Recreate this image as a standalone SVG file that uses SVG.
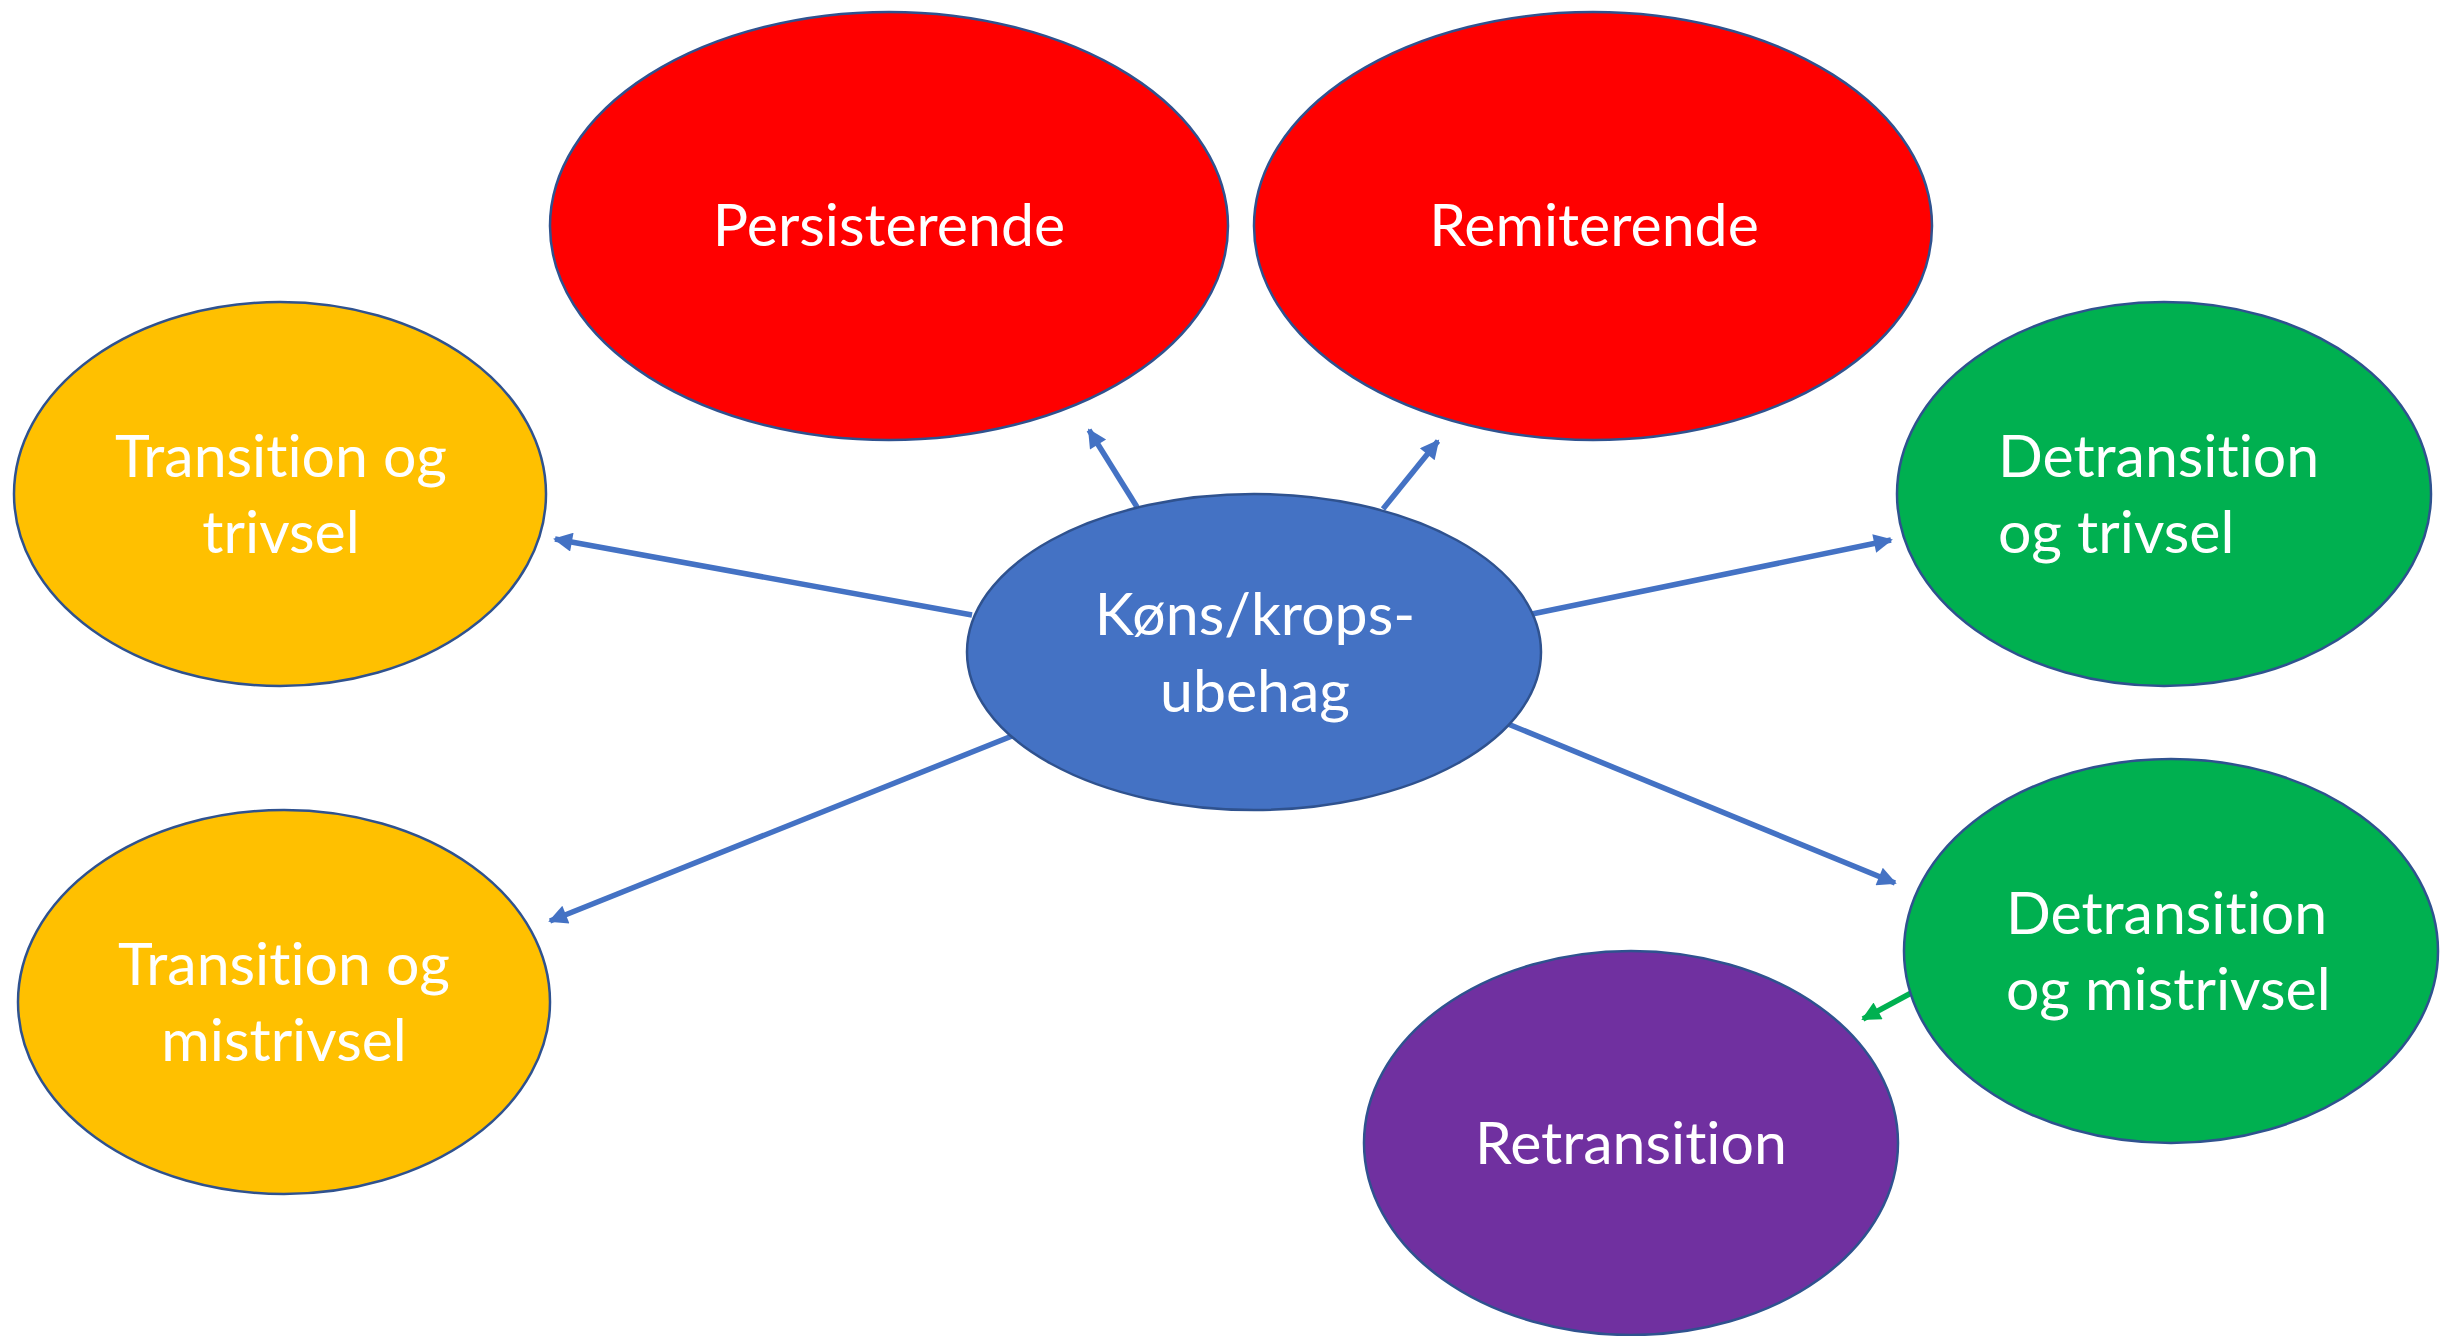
<svg xmlns="http://www.w3.org/2000/svg" width="2445" height="1336" viewBox="0 0 2445 1336">
<style>
.node{stroke:#2F528F;stroke-width:2.5}
.lbl{font-family:Lato,"Liberation Sans",sans-serif;font-size:59px;fill:#FFFFFF;font-variant-ligatures:none;font-feature-settings:"liga" 0}
.c{text-anchor:middle}
.conn{stroke:#4472C4;stroke-width:5.5;fill:none}
.green{stroke:#00B050}
</style>
<defs>
<marker id="ab" markerUnits="userSpaceOnUse" viewBox="0 0 10 10" refX="9" refY="5" markerWidth="24" markerHeight="19" orient="auto">
<path d="M0,0 L10,5 L0,10 Z" fill="#4472C4"/>
</marker>
<marker id="ag" markerUnits="userSpaceOnUse" viewBox="0 0 10 10" refX="9" refY="5" markerWidth="24" markerHeight="19" orient="auto">
<path d="M0,0 L10,5 L0,10 Z" fill="#00B050"/>
</marker>
</defs>
<rect width="2445" height="1336" fill="#FFFFFF"/>
<g id="connectors">
<line class="conn" x1="1137" y1="507" x2="1089" y2="430" marker-end="url(#ab)"/>
<line class="conn" x1="1383" y1="509" x2="1438" y2="441" marker-end="url(#ab)"/>
<line class="conn" x1="972" y1="615" x2="555" y2="539" marker-end="url(#ab)"/>
<line class="conn" x1="1012" y1="736" x2="550" y2="921" marker-end="url(#ab)"/>
<line class="conn" x1="1532" y1="614" x2="1891" y2="540" marker-end="url(#ab)"/>
<line class="conn" x1="1508" y1="724" x2="1895" y2="883" marker-end="url(#ab)"/>
<line class="conn green" x1="1913" y1="992" x2="1863" y2="1019" marker-end="url(#ag)"/>
</g>
<g id="node-persisterende">
<ellipse class="node" cx="889" cy="226" rx="339" ry="214" fill="#FF0000"/>
<text class="lbl c" x="889" y="246">Persisterende</text>
</g>
<g id="node-remiterende">
<ellipse class="node" cx="1593" cy="226" rx="339" ry="214" fill="#FF0000"/>
<text class="lbl c" x="1594" y="246">Remiterende</text>
</g>
<g id="node-transition-trivsel">
<ellipse class="node" cx="280" cy="494" rx="266" ry="192" fill="#FFC000"/>
<text class="lbl c" x="281" y="477">Transition og</text>
<text class="lbl c" x="281" y="553">trivsel</text>
</g>
<g id="node-transition-mistrivsel">
<ellipse class="node" cx="284" cy="1002" rx="266" ry="192" fill="#FFC000"/>
<text class="lbl c" x="284" y="985">Transition og</text>
<text class="lbl c" x="284" y="1061">mistrivsel</text>
</g>
<g id="node-center">
<ellipse class="node" cx="1254" cy="652" rx="287" ry="158" fill="#4472C4"/>
<text class="lbl c" x="1255" y="635">Køns/krops-</text>
<text class="lbl c" x="1255" y="712">ubehag</text>
</g>
<g id="node-detransition-trivsel">
<ellipse class="node" cx="2164" cy="494" rx="267" ry="192" fill="#00B050"/>
<text class="lbl" x="1998" y="477">Detransition</text>
<text class="lbl" x="1998" y="553">og trivsel</text>
</g>
<g id="node-detransition-mistrivsel">
<ellipse class="node" cx="2171" cy="951" rx="267" ry="192" fill="#00B050"/>
<text class="lbl" x="2006" y="934">Detransition</text>
<text class="lbl" x="2006" y="1010">og mistrivsel</text>
</g>
<g id="node-retransition">
<ellipse class="node" cx="1631" cy="1143" rx="267" ry="192" fill="#7030A0"/>
<text class="lbl c" x="1631" y="1164">Retransition</text>
</g>
</svg>
